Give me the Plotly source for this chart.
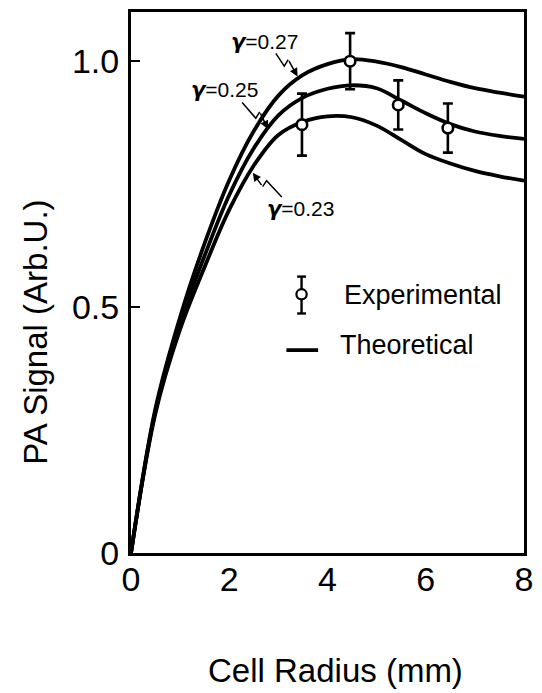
import plotly.graph_objects as go

# Theoretical PA signal vs. cell radius for three gamma values
radius_mm = [0, 0.5, 1.0, 1.5, 2.0, 2.5, 3.0, 3.5, 4.0, 4.5, 5.0, 5.5, 6.0, 6.5, 7.0, 7.5, 8.0]
signal_g027 = [0, 0.295, 0.48, 0.63, 0.758, 0.858, 0.93, 0.972, 0.994, 1.004, 0.999, 0.988, 0.973, 0.958, 0.945, 0.936, 0.928]
signal_g025 = [0, 0.29, 0.468, 0.605, 0.728, 0.823, 0.89, 0.926, 0.944, 0.951, 0.945, 0.92, 0.894, 0.872, 0.857, 0.848, 0.842]
signal_g023 = [0, 0.285, 0.455, 0.582, 0.698, 0.788, 0.85, 0.877, 0.888, 0.886, 0.869, 0.84, 0.811, 0.792, 0.777, 0.766, 0.757]

# Measured points with error bars
exp_radius = [3.48, 4.46, 5.44, 6.45]
exp_signal = [0.871, 1.0, 0.911, 0.864]
exp_error = [0.063, 0.057, 0.05, 0.05]

x_ticks = [0, 2, 4, 6, 8]
y_ticks = [0, 0.5, 1.0]
y_ticktext = ["0", "0.5", "1.0"]

FONT = "Liberation Sans, Arial, Helvetica, sans-serif"
BLACK = "#000000"

fig = go.Figure()

for sig in (signal_g027, signal_g025, signal_g023):
    fig.add_trace(go.Scatter(
        x=radius_mm, y=sig, mode="lines",
        line=dict(color=BLACK, width=3.8, shape="spline", smoothing=1.0),
        showlegend=False, hoverinfo="skip",
    ))

fig.add_trace(go.Scatter(
    x=exp_radius, y=exp_signal, mode="markers",
    marker=dict(symbol="circle", size=10.5, color="white", line=dict(color=BLACK, width=2.6)),
    error_y=dict(type="data", array=exp_error, visible=True, color=BLACK, thickness=2.6, width=5),
    showlegend=False,
))

shapes = []
annotations = []

# gamma labels with lightning-style leader lines
gamma_labels = [
    # value, text x, text y, leader points before the arrow, arrow tip
    ("0.27", 1.995, 1.039, [(2.948, 1.016), (3.12, 0.99), (3.20, 1.003)], (3.391, 0.969)),
    ("0.25", 1.19, 0.941, [(2.263, 0.916), (2.54, 0.884), (2.62, 0.897)], (2.787, 0.862)),
    ("0.23", 2.72, 0.699, [(3.069, 0.724), (2.76, 0.757), (2.68, 0.745)], (2.479, 0.773)),
]
GAMMA = "<span style='font-family:DejaVu Sans'><b><i>γ</i></b></span>"
for val, tx, ty, pts, tip in gamma_labels:
    annotations.append(dict(
        x=tx, y=ty, xref="x", yref="y", xanchor="left", yanchor="middle",
        text=GAMMA + "=" + val, showarrow=False,
        font=dict(family=FONT, size=21, color=BLACK),
    ))
    path = "M " + " L ".join(f"{px},{py}" for px, py in pts)
    shapes.append(dict(type="path", path=path, xref="x", yref="y",
                       line=dict(color=BLACK, width=1.5)))
    annotations.append(dict(
        x=tip[0], y=tip[1], ax=pts[-1][0], ay=pts[-1][1],
        xref="x", yref="y", axref="x", ayref="y", text="",
        showarrow=True, arrowhead=2, arrowsize=1.1, arrowwidth=1.5, arrowcolor=BLACK,
    ))

# legend: error-bar symbol and line sample
lx, ly_top, ly_bot, ly_c = 3.472, 0.562, 0.487, 0.526
shapes += [
    dict(type="line", xref="x", yref="y", x0=lx, x1=lx, y0=ly_bot, y1=ly_top, line=dict(color=BLACK, width=2.4)),
    dict(type="line", xref="x", yref="y", x0=lx - 0.09, x1=lx + 0.09, y0=ly_top, y1=ly_top, line=dict(color=BLACK, width=2.4)),
    dict(type="line", xref="x", yref="y", x0=lx - 0.09, x1=lx + 0.09, y0=ly_bot, y1=ly_bot, line=dict(color=BLACK, width=2.4)),
    dict(type="circle", xref="x", yref="y", x0=lx - 0.105, x1=lx + 0.105, y0=ly_c - 0.0105, y1=ly_c + 0.0105,
         fillcolor="white", line=dict(color=BLACK, width=2.2)),
    dict(type="line", xref="x", yref="y", x0=3.164, x1=3.809, y0=0.4125, y1=0.4125, line=dict(color=BLACK, width=3.6)),
]
annotations += [
    dict(x=4.292, y=0.524, xref="x", yref="y", xanchor="left", yanchor="middle", showarrow=False,
         text="Experimental", font=dict(family=FONT, size=27, color=BLACK)),
    dict(x=4.212, y=0.423, xref="x", yref="y", xanchor="left", yanchor="middle", showarrow=False,
         text="Theoretical", font=dict(family=FONT, size=27, color=BLACK)),
]

# axis titles
annotations += [
    dict(x=0.52, y=-0.218, xref="paper", yref="paper", xanchor="center", yanchor="middle", showarrow=False,
         text="Cell Radius (mm)", font=dict(family=FONT, size=33, color=BLACK)),
    dict(x=-0.243, y=0.408, xref="paper", yref="paper", xanchor="center", yanchor="middle", showarrow=False,
         textangle=-90, text="PA Signal (Arb.U.)", font=dict(family=FONT, size=33, color=BLACK)),
]

fig.update_layout(
    width=542, height=693,
    margin=dict(l=131, r=14, t=9, b=140),
    paper_bgcolor="white", plot_bgcolor="white",
    shapes=shapes, annotations=annotations,
    showlegend=False,
    font=dict(family=FONT, color=BLACK),
)
fig.update_xaxes(
    range=[0, 8], tickvals=x_ticks, ticks="", showgrid=False, zeroline=False,
    showline=True, mirror=True, linecolor=BLACK, linewidth=3,
    tickfont=dict(family=FONT, size=34, color=BLACK), ticklabelstandoff=-6,
)
fig.update_yaxes(
    range=[0, 1.1], tickvals=y_ticks, ticktext=y_ticktext, ticks="inside", ticklen=9, tickwidth=2,
    tickcolor=BLACK, showgrid=False, zeroline=False,
    showline=True, mirror=True, linecolor=BLACK, linewidth=3,
    tickfont=dict(family=FONT, size=34, color=BLACK), ticklabelstandoff=2,
)

fig.write_html("out.html")
